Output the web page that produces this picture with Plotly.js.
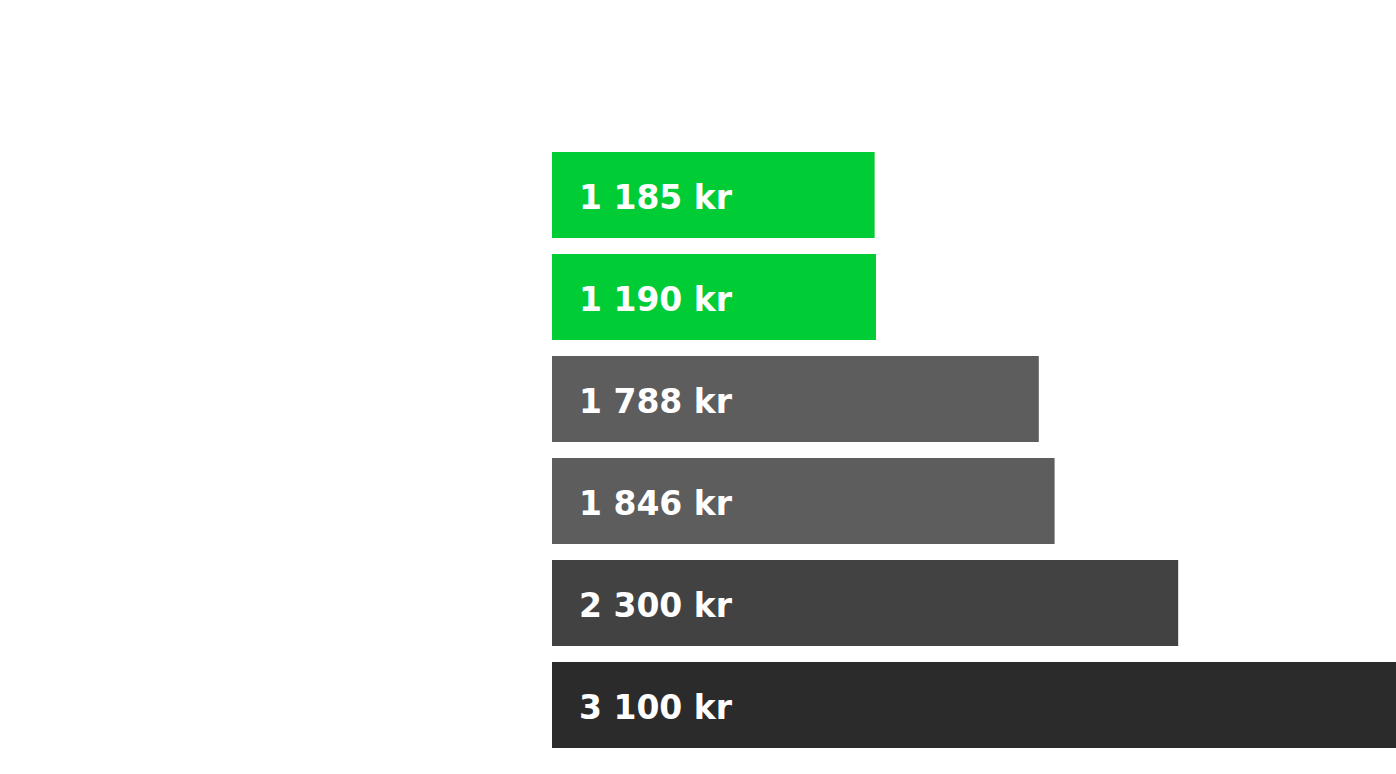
<!DOCTYPE html>
<html>
<head>
<meta charset="utf-8">
<script src="https://cdn.plot.ly/plotly-3.0.1.min.js"></script>
<style>
  html, body { margin: 0; padding: 0; background: #fff; }
  #chart { width: 1396px; height: 774px; }
</style>
</head>
<body>
<div id="chart"></div>
<script>
// prices, shortest bar at the top
var categories = ["Alternativ 1", "Alternativ 2", "Alternativ 3", "Alternativ 4", "Alternativ 5", "Alternativ 6"];
var prices = [1185, 1190, 1788, 1846, 2300, 3100];
var priceLabels = ["1 185 kr", "1 190 kr", "1 788 kr", "1 846 kr", "2 300 kr", "3 100 kr"];
var barColors = ["#00cc36", "#00cc36", "#5d5d5d", "#5d5d5d", "#424242", "#2b2b2b"];

var trace = {
    type: "bar",
    orientation: "h",
    x: prices,
    y: categories,
    marker: { color: barColors },
    hoverinfo: "none"
};

// the value labels sit inside each bar, a bit in from the left end
var notes = categories.map(function(c, i) {
    return {
        x: 0,
        y: c,
        xref: "x",
        yref: "y",
        text: priceLabels[i],
        showarrow: false,
        xanchor: "left",
        xshift: 25,
        yshift: -2,
        font: { family: "'DejaVu Sans', sans-serif", size: 33, color: "#ffffff", weight: "bold" }
    };
});

var layout = {
    width: 1396,
    height: 774,
    margin: { l: 552, r: 0, t: 144, b: 18 },
    paper_bgcolor: "#ffffff",
    plot_bgcolor: "#ffffff",
    bargap: 0.157,
    showlegend: false,
    xaxis: {
        range: [0, 3100],
        showgrid: false,
        zeroline: false,
        showticklabels: false,
        ticks: ""
    },
    yaxis: {
        autorange: "reversed",
        showgrid: false,
        zeroline: false,
        showticklabels: false,
        ticks: ""
    },
    annotations: notes
};

Plotly.newPlot("chart", [trace], layout, { displayModeBar: false, staticPlot: true });
</script>
</body>
</html>
